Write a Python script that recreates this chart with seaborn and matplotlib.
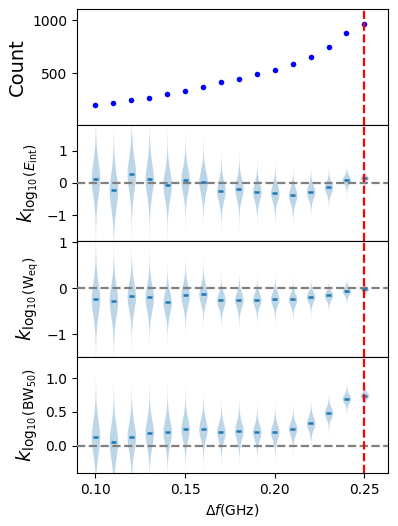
import numpy as np
import pandas as pd
import matplotlib
matplotlib.use("Agg")
import matplotlib.pyplot as plt
import seaborn as sns

# frequency spacing (GHz)
freqs = [0.10, 0.11, 0.12, 0.13, 0.14, 0.15, 0.16, 0.17,
         0.18, 0.19, 0.20, 0.21, 0.22, 0.23, 0.24, 0.25]
counts = [196, 215, 247, 269, 304, 332, 370, 415,
          450, 493, 531, 583, 655, 747, 882, 965]

# medians and spread of each violin
eint_med = [0.128, -0.234, 0.277, 0.128, -0.053, 0.096, 0.032, -0.255,
            -0.18, -0.277, -0.31, -0.38, -0.277, -0.138, 0.096, 0.15]
eint_spread = [0.33, 0.33, 0.32, 0.30, 0.27, 0.24, 0.22, 0.20,
               0.19, 0.17, 0.16, 0.15, 0.13, 0.11, 0.08, 0.05]

weq_med = [-0.234, -0.277, -0.182, -0.204, -0.314, -0.16, -0.131, -0.27,
           -0.255, -0.255, -0.234, -0.248, -0.19, -0.16, -0.066, -0.022]
weq_spread = [0.22, 0.21, 0.18, 0.17, 0.14, 0.14, 0.12, 0.10,
              0.10, 0.09, 0.09, 0.08, 0.07, 0.06, 0.05, 0.03]

bw_med = [0.127, 0.059, 0.127, 0.191, 0.206, 0.25, 0.245, 0.201,
          0.221, 0.201, 0.206, 0.25, 0.333, 0.485, 0.696, 0.74]
bw_spread = [0.15, 0.15, 0.13, 0.12, 0.11, 0.10, 0.09, 0.08,
             0.08, 0.07, 0.07, 0.06, 0.06, 0.05, 0.04, 0.03]


def build_df(meds, spreads):
    # evenly spaced quantiles of a logistic shape around each median
    rows = []
    for f, m, s, n in zip(freqs, meds, spreads, counts):
        p = (np.arange(n) + 0.5) / n
        vals = m + s * np.log(p / (1 - p))
        rows.append(pd.DataFrame({"freq": f, "value": vals}))
    return pd.concat(rows, ignore_index=True)


panels = [
    (eint_med, eint_spread, r"$k_{\log_{10}(E_{\rm int})}$", (-1.81, 1.79), [-1, 0, 1]),
    (weq_med, weq_spread, r"$k_{\log_{10}({\rm W_{eq}})}$", (-1.5, 1.02), [-1, 0, 1]),
    (bw_med, bw_spread, r"$k_{\log_{10}({\rm BW_{50}})}$", (-0.4, 1.31), [0.0, 0.5, 1.0]),
]

width = 0.47
half = 0.0014
fig, axes = plt.subplots(4, 1, figsize=(3.98, 5.26), dpi=100, sharex=True)
fig.subplots_adjust(left=0.193, right=0.975, top=0.982, bottom=0.101, hspace=0)

ax0 = axes[0]
sns.scatterplot(x=freqs, y=counts, ax=ax0, color="blue", s=16, linewidth=0, zorder=3)
ax0.set_ylim(7, 1104)
ax0.set_yticks([500, 1000])
ax0.set_ylabel("Count", fontsize=14)
ax0.axvline(0.25, color="red", ls="--", lw=1.6, zorder=5)

for ax, (meds, spreads, label, ylim, yt) in zip(axes[1:], panels):
    df = build_df(meds, spreads)
    sns.violinplot(data=df, x="freq", y="value", ax=ax, native_scale=True,
                   inner=None, cut=0, density_norm="width", width=width,
                   color="#bcd6e8", saturation=1, linewidth=0)
    ax.axhline(0, color="gray", ls="--", lw=1.6, zorder=3)
    ax.hlines(meds, np.array(freqs) - half, np.array(freqs) + half,
              color="#1f77b4", lw=1.8, zorder=4)
    ax.axvline(0.25, color="red", ls="--", lw=1.6, zorder=5)
    ax.set_ylim(*ylim)
    ax.set_yticks(yt)
    ax.set_ylabel(label, fontsize=14)
    ax.set_xlabel("")

axes[-1].set_xlim(0.0896, 0.2632)
axes[-1].set_xticks([0.10, 0.15, 0.20, 0.25])
axes[-1].set_xticklabels(["0.10", "0.15", "0.20", "0.25"])
axes[-1].set_xlabel(r"$\Delta f$(GHz)", fontsize=10)

fig.savefig("out.png", dpi=100)
